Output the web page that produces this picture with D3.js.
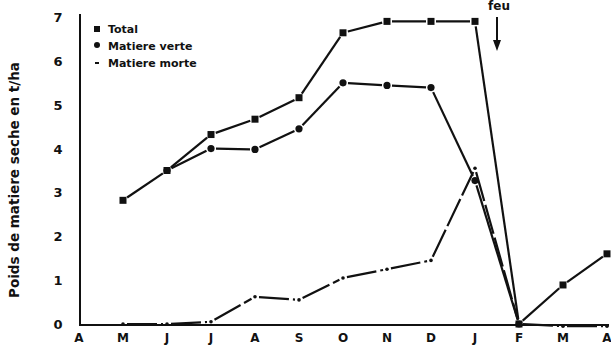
<!DOCTYPE html>
<html>
<head>
<meta charset="utf-8">
<script src="https://cdn.jsdelivr.net/npm/d3@7"></script>
<style>
  body { margin: 0; background: #fff; }
  text { font-family: "DejaVu Sans", "Liberation Sans", sans-serif; font-weight: bold; fill: #111; }
</style>
</head>
<body>
<div id="chart"></div>
<script>
// months from april to april
var months = ["A", "M", "J", "J", "A", "S", "O", "N", "D", "J", "F", "M", "A"];
var yTicks = [0, 1, 2, 3, 4, 5, 6, 7];

// values in t/ha, null = no measure
var total  = [null, 2.82, 3.5, 4.32, 4.67, 5.16, 6.64, 6.9, 6.9, 6.9, 0, 0.89, 1.6];
var verte  = [null, null, 3.5, 4.0, 3.98, 4.45, 5.5, 5.44, 5.39, 3.27, 0, null, null];
var morte  = [null, 0, 0, 0.05, 0.62, 0.55, 1.05, 1.25, 1.45, 3.55, 0, -0.05, -0.05];

var width = 611, height = 357;

var svg = d3.select("#chart")
            .append("svg")
            .attr("width", width)
            .attr("height", height);

// x scale uses index so repeated letters stay apart
var xScale = d3.scalePoint()
               .domain(d3.range(months.length))
               .range([79, 607]);

var yScale = d3.scaleLinear()
               .domain([0, 7])
               .range([324, 17]);

// axis lines
svg.append("line")
   .attr("x1", 80).attr("x2", 80)
   .attr("y1", 14).attr("y2", 325)
   .attr("stroke", "#111").attr("stroke-width", 2);
svg.append("line")
   .attr("x1", 79).attr("x2", 609)
   .attr("y1", 325).attr("y2", 325)
   .attr("stroke", "#111").attr("stroke-width", 2);

// tick labels
svg.selectAll(".ylab")
   .data(yTicks)
   .enter()
   .append("text")
   .attr("class", "ylab")
   .attr("x", 58)
   .attr("y", function(d) { return yScale(d) + 5; })
   .attr("text-anchor", "middle")
   .style("font-size", "13px")
   .text(function(d) { return d; });

svg.selectAll(".xlab")
   .data(months)
   .enter()
   .append("text")
   .attr("class", "xlab")
   .attr("x", function(d, i) { return xScale(i); })
   .attr("y", 342)
   .attr("text-anchor", "middle")
   .style("font-size", "12px")
   .text(function(d) { return d; });

// y title
svg.append("text")
   .attr("transform", "translate(19,180) rotate(-90)")
   .attr("text-anchor", "middle")
   .style("font-size", "13.5px")
   .text("Poids de matiere seche en t/ha");

// draw a series as segments with small gaps at the markers
function drawSeries(vals, gap, dash) {
  var pts = [];
  vals.forEach(function(v, i) {
    if (v !== null) pts.push([xScale(i), yScale(v)]);
  });
  for (var k = 0; k < pts.length - 1; k++) {
    var a = pts[k], b = pts[k + 1];
    var dx = b[0] - a[0], dy = b[1] - a[1];
    var len = Math.sqrt(dx * dx + dy * dy);
    var ux = dx / len, uy = dy / len;
    svg.append("line")
       .attr("x1", a[0] + ux * gap).attr("y1", a[1] + uy * gap)
       .attr("x2", b[0] - ux * gap).attr("y2", b[1] - uy * gap)
       .attr("stroke", "#111")
       .attr("stroke-width", 2.2)
       .attr("stroke-dasharray", dash || null);
  }
  return pts;
}

var tPts = drawSeries(total, 5);
var vPts = drawSeries(verte, 5);
var mPts = drawSeries(morte, 4, "30,4");

svg.selectAll(".sq")
   .data(tPts)
   .enter()
   .append("rect")
   .attr("class", "sq")
   .attr("x", function(d) { return d[0] - 3.5; })
   .attr("y", function(d) { return d[1] - 3.5; })
   .attr("width", 7).attr("height", 7)
   .attr("fill", "#111");

svg.selectAll(".dot")
   .data(vPts)
   .enter()
   .append("circle")
   .attr("class", "dot")
   .attr("cx", function(d) { return d[0]; })
   .attr("cy", function(d) { return d[1]; })
   .attr("r", 3.6)
   .attr("fill", "#111");

svg.selectAll(".tiny")
   .data(mPts)
   .enter()
   .append("circle")
   .attr("class", "tiny")
   .attr("cx", function(d) { return d[0]; })
   .attr("cy", function(d) { return d[1]; })
   .attr("r", 1.8)
   .attr("fill", "#111");

// legend
svg.append("rect").attr("x", 94).attr("y", 26).attr("width", 6).attr("height", 6).attr("fill", "#111");
svg.append("circle").attr("cx", 97).attr("cy", 45).attr("r", 3).attr("fill", "#111");
svg.append("line").attr("x1", 95).attr("x2", 99).attr("y1", 63).attr("y2", 63)
   .attr("stroke", "#111").attr("stroke-width", 2);
var legend = ["Total", "Matiere verte", "Matiere morte"];
svg.selectAll(".leg")
   .data(legend)
   .enter()
   .append("text")
   .attr("class", "leg")
   .attr("x", 108)
   .attr("y", function(d, i) { return 33 + i * 17; })
   .style("font-size", "11px")
   .text(function(d) { return d; });

// fire marker
svg.append("text")
   .attr("x", 499).attr("y", 10)
   .attr("text-anchor", "middle")
   .style("font-size", "12px")
   .text("feu");
svg.append("line")
   .attr("x1", 497).attr("x2", 497)
   .attr("y1", 17).attr("y2", 42)
   .attr("stroke", "#111").attr("stroke-width", 2);
svg.append("path")
   .attr("d", "M493,40 L501,40 L497,51 Z")
   .attr("fill", "#111");
</script>
</body>
</html>
